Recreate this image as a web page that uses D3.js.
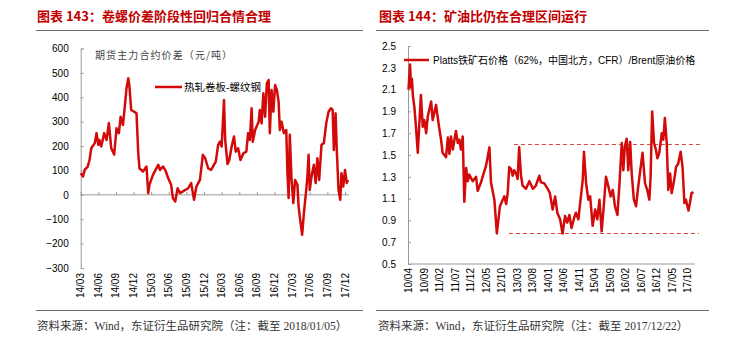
<!DOCTYPE html>
<html><head><meta charset="utf-8">
<script src="https://cdn.jsdelivr.net/npm/d3@7/dist/d3.min.js"></script>
<style>
body{margin:0;background:#fff;}
svg{display:block;}
text{font-family:"Liberation Sans",Arial,"Noto Sans CJK SC",sans-serif;}
</style></head>
<body><svg id="c" width="752" height="356"></svg>
<script>
// ---------- Data ----------
const leftTitle = "图表 143：卷螺价差阶段性回归合情合理";
const rightTitle = "图表 144：矿油比仍在合理区间运行";
const leftUnit = "期货主力合约价差（元/吨）";
const leftSeriesName = "热轧卷板-螺纹钢";
const rightSeriesName = "Platts铁矿石价格（62%，中国北方，CFR）/Brent原油价格";
const leftSource = "资料来源：Wind，东证衍生品研究院（注：截至 2018/01/05）";
const rightSource = "资料来源：Wind，东证衍生品研究院（注：截至 2017/12/22）";

// left: months since 2014/03
const leftTickLabels = ["14/03","14/06","14/09","14/12","15/03","15/06","15/09","15/12","16/03","16/06","16/09","16/12","17/03","17/06","17/09","17/12"];
const leftYTicks = [-300,-200,-100,0,100,200,300,400,500,600];
const leftMonths = [
 0,0.4,0.7,1.2,1.5,1.8,2.4,2.7,3.0,3.2,
 3.5,4.0,4.4,4.8,5.2,5.7,6.1,6.5,6.8,7.2,
 7.5,7.8,8.1,8.3,8.6,9.1,9.5,9.8,10.0,10.6,
 11.2,11.5,11.7,12.3,13.2,13.5,14.0,14.4,14.9,15.4,
 15.7,16.1,16.5,16.9,17.4,18.3,18.8,19.3,19.7,20.3,
 20.8,21.2,21.7,22.2,23.0,23.4,23.7,24.0,24.4,24.6,
 25.0,25.3,25.7,26.1,26.4,26.8,27.2,27.7,28.2,28.5,
 28.8,29.1,29.3,29.7,30.3,30.5,30.8,31.1,31.4,31.7,
 32.0,32.2,32.5,32.8,33.1,33.4,33.7,33.9,34.2,34.6,
 35.0,35.2,35.4,35.6,35.9,36.2,36.5,36.9,37.1,37.3,
 37.7,38.0,38.4,38.6,38.8,39.0,39.3,39.7,40.0,40.3,
 40.6,41.0,41.4,41.8,42.2,42.6,42.9,43.1,43.4,43.6,
 43.9,44.2,44.4,44.7,45.0,45.3,45.5];
const leftSpread = [
 89,75,103,116,143,191,212,253,205,225,
 198,253,225,294,191,165,273,253,320,287,
 361,437,478,444,348,341,334,171,109,95,
 116,7,41,82,123,102,116,102,68,41,
 -13,-27,27,7,14,27,48,-20,34,61,
 164,150,109,102,136,205,218,198,389,225,
 126,143,198,239,177,191,143,170,177,253,
 225,355,218,266,300,348,293,416,320,457,
 471,253,430,341,450,430,381,266,300,253,
 266,89,-13,246,61,-34,61,41,-48,-89,
 -164,-75,20,75,164,20,75,123,48,150,
 61,205,212,293,341,355,348,184,334,184,
 20,-20,89,34,102,48,61];

// right: months since 2010/04
const rightTickLabels = ["10/04","10/09","11/02","11/07","11/12","12/05","12/10","13/03","13/08","14/01","14/06","14/11","15/04","15/09","16/02","16/07","16/12","17/05","17/10"];
const rightYTicks = [0.5,0.7,0.9,1.1,1.3,1.5,1.7,1.9,2.1,2.3,2.5];
const rightMonths = [
 0,0.5,0.8,1.1,1.4,1.9,2.4,3.0,3.5,4.0,
 4.6,5.1,5.7,6.2,7.3,7.8,8.9,9.4,9.9,10.5,
 11.0,12.1,12.7,13.2,13.7,14.3,15.3,15.9,16.4,16.9,
 17.5,18.0,18.6,19.1,19.6,20.7,21.8,22.3,23.4,23.9,
 25.0,26.1,26.6,27.7,28.5,29.5,30.4,30.9,31.5,32.0,
 32.5,33.1,33.6,34.1,34.7,35.2,35.7,36.3,36.8,37.9,
 39.0,40.1,41.1,42.2,42.7,43.8,44.9,45.6,46.5,47.3,
 48.0,48.9,49.7,50.5,51.2,51.9,52.6,53.4,54.0,54.8,
 55.5,56.2,56.6,57.3,58.0,58.6,59.4,60.2,60.9,61.6,
 62.3,62.9,63.7,64.5,65.2,65.9,66.6,67.4,68.0,68.8,
 69.3,69.8,70.4,70.9,71.5,72.0,72.7,73.4,74.1,74.9,
 75.5,76.3,77.0,77.7,78.1,78.6,79.2,79.8,80.3,80.9,
 81.7,82.2,82.7,83.3,83.8,84.4,84.9,85.7,86.3,87.0,
 87.8,88.4,89.0,89.5,90.3,90.8,91.3,91.9];
const rightRatio = [
 2.10,2.33,2.12,2.20,2.05,1.94,1.76,1.52,1.79,2.05,
 1.76,1.82,1.70,1.85,1.99,1.82,1.96,1.85,1.75,1.64,
 1.52,1.48,1.66,1.51,1.67,1.55,1.72,1.61,1.64,1.55,
 1.67,1.07,1.38,1.26,1.32,1.26,1.30,1.17,1.25,1.30,
 1.40,1.57,1.25,1.09,0.78,1.03,1.09,1.12,1.05,1.15,
 1.39,1.37,1.31,1.36,1.33,1.28,1.57,1.31,1.22,1.19,
 1.26,1.19,1.22,1.31,1.25,1.24,1.19,1.15,1.00,1.12,
 0.97,0.91,0.78,0.94,0.88,0.95,0.83,0.92,0.97,0.91,
 1.09,1.27,1.53,1.24,1.09,1.12,0.85,1.00,0.91,1.09,
 0.80,1.00,1.30,1.21,1.12,1.18,1.03,0.95,1.21,1.61,
 1.36,1.58,1.65,1.36,1.62,1.33,1.09,1.03,1.21,1.39,
 1.52,1.24,1.18,1.09,1.30,1.90,1.61,1.55,1.47,1.52,
 1.70,1.64,1.84,1.61,1.18,1.33,1.15,1.27,1.39,1.42,
 1.53,1.39,1.06,1.09,0.99,1.06,1.15,1.16];
// reasonable band (dashed lines): [start month, end month, level]
const bandUpper = [34.0, 94.3, 1.6];
const bandLower = [32.4, 93.7, 0.78];

// ---------- Drawing ----------
const svg = d3.select("#c");
svg.append("rect").attr("width",752).attr("height",356).attr("fill","#fff");
const RED = "#d20a0a";
const TITLE_RED = "#c00000";
const AX = "#9a9a9a";
const serif = '"Liberation Serif","Noto Sans CJK SC",serif';
const cjk = '"Liberation Sans","Noto Sans CJK SC",sans-serif';

// titles and rules
function header(x, x1, x2, txt){
  svg.append("text").attr("x",x).attr("y",21).attr("fill",TITLE_RED)
    .style("font-family",'"Noto Sans CJK SC",serif').style("font-weight","bold")
    .style("font-size","13px").text(txt);
  svg.append("line").attr("x1",x1).attr("x2",x2).attr("y1",30.5).attr("y2",30.5)
    .attr("stroke","#6e6e6e").attr("stroke-width",1.2);
}
header(37, 36, 363, leftTitle);
header(379, 376, 709, rightTitle);
function footer(x, x1, x2, txt){
  svg.append("line").attr("x1",x1).attr("x2",x2).attr("y1",310.5).attr("y2",310.5)
    .attr("stroke","#6e6e6e").attr("stroke-width",1.2);
  svg.append("text").attr("x",x).attr("y",330).attr("fill","#333")
    .style("font-family",serif).style("font-size","11.5px").text(txt);
}
footer(37, 36, 363, leftSource);
footer(378, 376, 709, rightSource);

// ---- Left chart ----
const lx = d3.scaleLinear().domain([0,45]).range([80.7,345]);
const ly = d3.scaleLinear().domain([-300,600]).range([268,48.5]);
const gL = svg.append("g");
const yAxL = gL.append("g").attr("transform","translate(80.7,0)")
  .call(d3.axisLeft(ly).tickValues(leftYTicks).tickSize(-3).tickPadding(12).tickFormat(d3.format("d")));
yAxL.select(".domain").attr("stroke",AX);
yAxL.selectAll(".tick line").attr("stroke",AX);
yAxL.selectAll("text").style("font-size","10px").attr("fill","#000");
const xAxL = gL.append("g").attr("transform",`translate(0,${ly(0)})`)
  .call(d3.axisTop(lx).tickValues(d3.range(0,46,3)).tickSize(3).tickFormat(""));
xAxL.select(".domain").attr("stroke",AX).attr("d",`M${lx(0)},0H349`);
xAxL.selectAll(".tick line").attr("stroke",AX);
gL.selectAll(".lxl").data(leftTickLabels).enter().append("text")
  .attr("transform",(d,i)=>`translate(${lx(i*3)},273) rotate(-90)`)
  .attr("text-anchor","end").attr("dy","0.35em").style("font-size","10px").text(d=>d);
const leftData = leftMonths.map((m,i)=>({m, v:leftSpread[i]}));
gL.append("path").datum(leftData)
  .attr("d", d3.line().x(d=>lx(d.m)).y(d=>ly(d.v)))
  .attr("fill","none").attr("stroke",RED).attr("stroke-width",2.5).attr("stroke-linejoin","round");
gL.append("text").attr("x",95).attr("y",59).attr("fill","#444")
  .style("font-family",'"Noto Sans CJK SC",serif').style("font-size","10px")
  .style("letter-spacing","1.1px").text(leftUnit);
gL.append("line").attr("x1",155).attr("x2",182).attr("y1",87).attr("y2",87)
  .attr("stroke",RED).attr("stroke-width",2.5);
gL.append("text").attr("x",184).attr("y",91).style("font-family",cjk)
  .style("font-size","10.5px").text(leftSeriesName);

// ---- Right chart ----
const rx = d3.scaleLinear().domain([0,90]).range([408.5,687.5]);
const ry = d3.scaleLinear().domain([0.5,2.5]).range([264,46]);
const gR = svg.append("g");
const yAxR = gR.append("g").attr("transform","translate(408,0)")
  .call(d3.axisLeft(ry).tickValues(rightYTicks).tickSize(-3).tickPadding(12).tickFormat(d3.format(".1f")));
yAxR.select(".domain").attr("stroke",AX);
yAxR.selectAll(".tick line").attr("stroke",AX);
yAxR.selectAll("text").style("font-size","10px").attr("fill","#000");
const xAxR = gR.append("g").attr("transform",`translate(0,${ry(0.5)})`)
  .call(d3.axisBottom(rx).tickValues(d3.range(0,91,5)).tickSize(0).tickFormat(""));
xAxR.select(".domain").attr("stroke",AX).attr("d",`M408,0H695`);
gR.selectAll(".rxl").data(rightTickLabels).enter().append("text")
  .attr("transform",(d,i)=>`translate(${rx(i*5)},268) rotate(-90)`)
  .attr("text-anchor","end").attr("dy","0.35em").style("font-size","10px").text(d=>d);
[bandUpper, bandLower].forEach(b=>{
  const yy = Math.round(ry(b[2])) + 0.5;
  gR.append("line").attr("x1",rx(b[0])).attr("x2",rx(b[1]))
    .attr("y1",yy).attr("y2",yy)
    .attr("stroke","#e0443e").attr("stroke-width",1.1).attr("stroke-dasharray","4,3");
});
const rightData = rightMonths.map((m,i)=>({m, v:rightRatio[i]}));
gR.append("path").datum(rightData)
  .attr("d", d3.line().x(d=>rx(d.m)).y(d=>ry(d.v)))
  .attr("fill","none").attr("stroke",RED).attr("stroke-width",2.5).attr("stroke-linejoin","round");
gR.append("line").attr("x1",404).attr("x2",429).attr("y1",60).attr("y2",60)
  .attr("stroke",RED).attr("stroke-width",2.5);
gR.append("text").attr("x",433).attr("y",64).style("font-family",cjk)
  .style("font-size","10px").text(rightSeriesName);
</script></body></html>
